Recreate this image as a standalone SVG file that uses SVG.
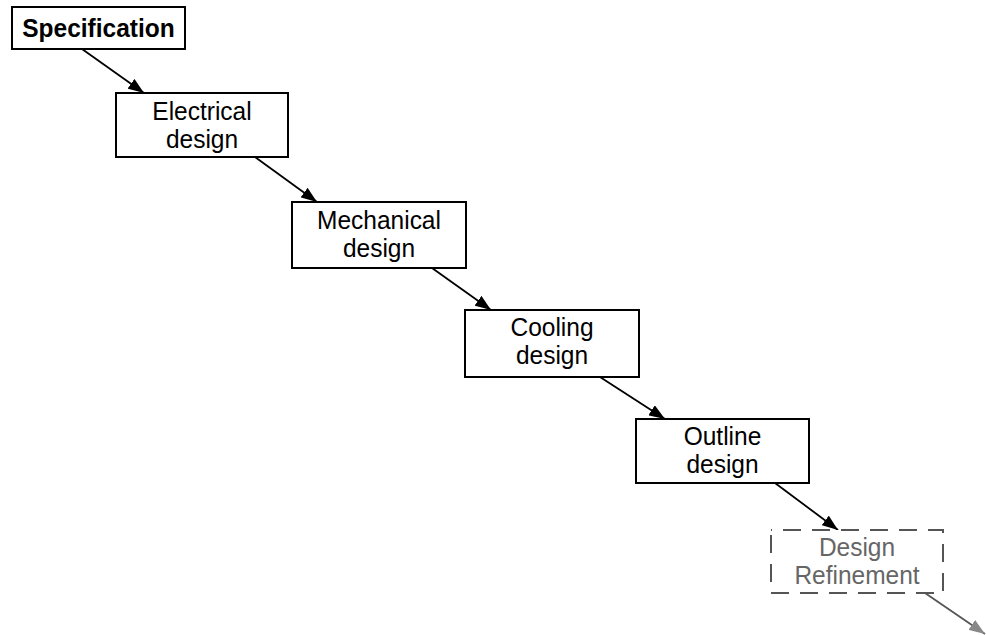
<svg xmlns="http://www.w3.org/2000/svg" width="986" height="635" viewBox="0 0 986 635">
<defs>
<style>
.box{fill:#fff;stroke:#000;stroke-width:2}
.dbox{fill:#fff;stroke:#555;stroke-width:2;stroke-dasharray:18 11;stroke-dashoffset:-12}
.t{font-family:"Liberation Sans",Arial,sans-serif;font-size:24.5px;fill:#000;text-anchor:middle}
.tb{font-weight:bold}
.tg{fill:#666}
.c{stroke:#000;stroke-width:1.8;fill:none;marker-end:url(#ah)}
.cg{stroke:#555;stroke-width:1.8;fill:none;marker-end:url(#ahg)}
</style>
<marker id="ah" markerUnits="userSpaceOnUse" markerWidth="18" markerHeight="12" refX="16" refY="6" orient="auto">
<path d="M0,0 L16,6 L0,12 Z" fill="#000"/>
</marker>
<marker id="ahg" markerUnits="userSpaceOnUse" markerWidth="18" markerHeight="12" refX="16" refY="6" orient="auto">
<path d="M0,0 L16,6 L0,12 Z" fill="#888"/>
</marker>
</defs>
<rect width="986" height="635" fill="#fff"/>
<g id="connectors">
<line class="c" x1="82" y1="49" x2="144" y2="93"/>
<line class="c" x1="255" y1="157" x2="317" y2="202"/>
<line class="c" x1="432" y1="268" x2="491" y2="310"/>
<line class="c" x1="600" y1="377" x2="665" y2="419"/>
<line class="c" x1="775" y1="483" x2="838" y2="530"/>
<line class="cg" x1="925" y1="593" x2="985" y2="634"/>
</g>
<g id="spec">
<rect class="box" x="12" y="7" width="173" height="42"/>
<text class="t tb" transform="translate(98.5,37) scale(1,1.06)">Specification</text>
</g>
<g id="electrical">
<rect class="box" x="116" y="93" width="172" height="64"/>
<text class="t" transform="translate(202,120) scale(1,1.04)">Electrical</text>
<text class="t" transform="translate(202,148) scale(1,1.04)">design</text>
</g>
<g id="mechanical">
<rect class="box" x="292" y="202" width="174" height="66"/>
<text class="t" transform="translate(379,229) scale(1,1.04)">Mechanical</text>
<text class="t" transform="translate(379,257) scale(1,1.04)">design</text>
</g>
<g id="cooling">
<rect class="box" x="465" y="310" width="174" height="67"/>
<text class="t" transform="translate(552,336) scale(1,1.04)">Cooling</text>
<text class="t" transform="translate(552,364) scale(1,1.04)">design</text>
</g>
<g id="outline">
<rect class="box" x="636" y="419" width="173" height="64"/>
<text class="t" transform="translate(722.5,445) scale(1,1.04)">Outline</text>
<text class="t" transform="translate(722.5,473) scale(1,1.04)">design</text>
</g>
<g id="refinement">
<rect class="dbox" x="771" y="530" width="172" height="63"/>
<text class="t tg" transform="translate(857,556) scale(1,1.04)">Design</text>
<text class="t tg" transform="translate(857,584) scale(1,1.04)">Refinement</text>
</g>
</svg>
